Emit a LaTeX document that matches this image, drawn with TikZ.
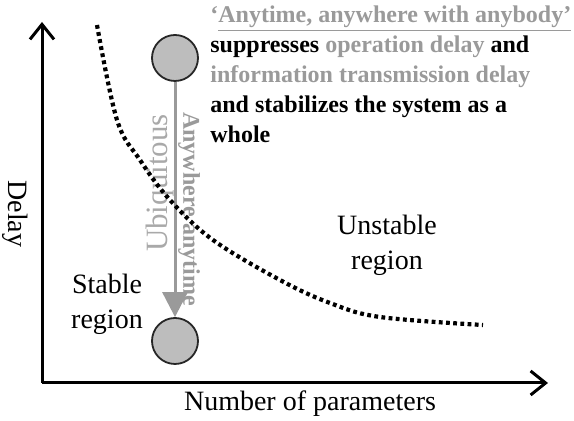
\documentclass[tikz,border=0pt]{standalone}
\usepackage{fontspec}
\setmainfont{Liberation Serif}
\usepackage{xcolor}
\usepackage{tikz}
\usetikzlibrary{positioning,arrows.meta}
\definecolor{txtgray}{HTML}{9A9A9A}
\definecolor{ballgray}{HTML}{BDBDBD}
\tikzset{
  axis/.style={line width=1.5pt,-{Straight Barb[length=7.5pt,width=12pt,line width=1.5pt]}},
  state/.style={circle,draw=black!85,line width=0.9pt,fill=ballgray,minimum size=23pt,inner sep=0pt},
  path arrow/.style={draw=txtgray,line width=1.5pt,-{Triangle[length=12.5pt,width=12.5pt]}},
  bound/.style={line width=2.1pt,dash pattern=on 1.9pt off 1.7pt},
  plain/.style={inner sep=0pt,font=\fontsize{14}{17.5}\selectfont,align=center},
  note/.style={inner sep=0pt,font=\bfseries\fontsize{12}{15}\selectfont,align=left}
}
\begin{document}
\begin{tikzpicture}[x=0.5pt,y=-0.5pt]
  \useasboundingbox (0,0) rectangle (574,421);
  % axes
  \coordinate (origin) at (42,383);
  \coordinate (ytip) at (42,22);
  \coordinate (xtip) at (548,383);
  \draw[axis] (origin) -- (ytip);
  \draw[axis] (origin) -- (xtip);
  \node[plain,rotate=-90] (delay) at (15,214) {Delay};
  \node[plain] (param) at (310,404) {Number of parameters};
  % regions
  \node[plain] (stable) at (107,304) {Stable\\region};
  \node[plain] (unstable) at (387,245) {Unstable\\region};
  % states and transition
  \node[state] (high) at (175,58) {};
  \node[state] (low) at (175,341) {};
  \draw[path arrow] (high) -- (low);
  \node[plain,rotate=90,text=txtgray!85,font=\fontsize{15.5}{18}\selectfont] (ubiq) at (160,183) {Ubiquitous};
  \node[note,rotate=-90,text=txtgray] (anyw) at (189,209) {Anywhere anytime};
  % stability boundary
  \draw[bound] plot[smooth,tension=0.6] coordinates {(97,25) (117,120) (140,160) (170,200) (213,240) (280,280) (330,303) (380,317) (483,325)};
  % explanation
  \node[note,anchor=north west] (claim) at (210,5) {%
    \textcolor{txtgray}{‘\underline{Anytime, anywhere with anybody’}}\\
    suppresses \textcolor{txtgray}{operation delay} and\\
    \textcolor{txtgray}{information transmission delay}\\
    and stabilizes the system as a\\
    whole};
\end{tikzpicture}
\end{document}
